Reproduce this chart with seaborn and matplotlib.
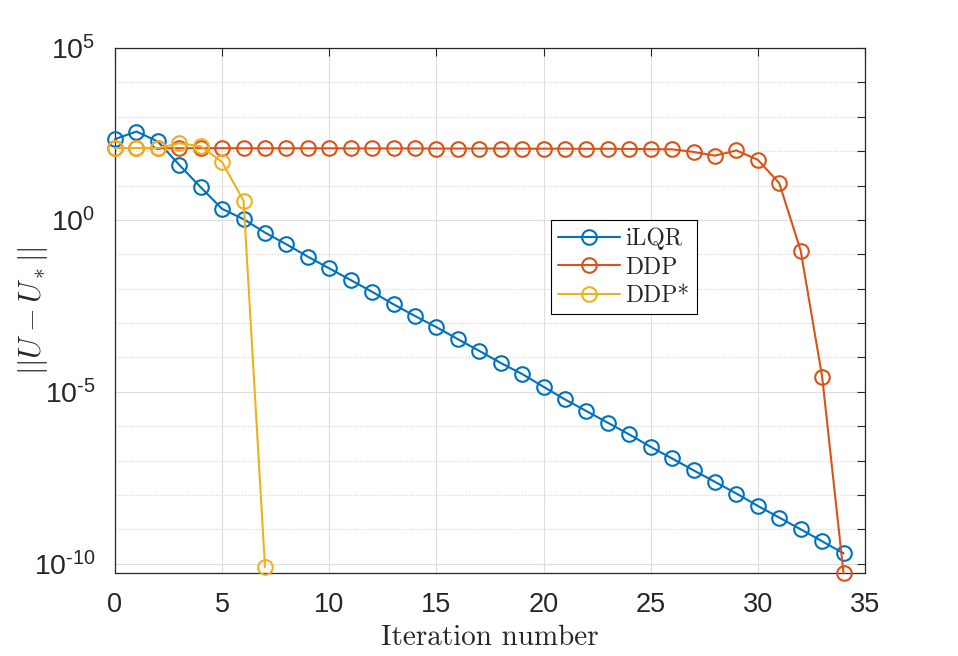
import numpy as np
import pandas as pd
import matplotlib
matplotlib.use("Agg")
import matplotlib.pyplot as plt
import seaborn as sns
from matplotlib.ticker import FixedLocator, FixedFormatter, NullFormatter

# ---- data ----
iters_ilqr = list(range(0, 35))
ilqr_vals = [224, 372, 191, 39.8, 8.9, 2.09, 1.05, 0.427, 0.195, 0.0851,
             0.0389, 0.0178, 8.1e-3, 3.5e-3, 1.6e-3, 7.6e-4, 3.4e-4, 1.55e-4,
             6.9e-5, 3.3e-5, 1.4e-5, 6.0e-6, 2.75e-6, 1.26e-6, 5.75e-7,
             2.5e-7, 1.15e-7, 5.2e-8, 2.4e-8, 1.1e-8, 4.8e-9, 2.2e-9,
             1.0e-9, 4.5e-10, 2.0e-10]

iters_ddp = list(range(0, 35))
ddp_vals = [123, 123, 122, 122, 122, 122, 121, 121, 121, 121,
            121, 120, 120, 120, 120, 119, 119, 119, 119, 118,
            118, 118, 117, 117, 116, 114, 113, 95, 74, 105,
            56, 11.7, 0.126, 2.75e-5, 5.2e-11]

iters_ddps = list(range(0, 8))
ddps_vals = [123, 123, 123, 170, 138, 48, 3.6, 8.0e-11]

labels = ["iLQR", "DDP", "DDP*"]
colors = ["#0072BD", "#D95319", "#EDB120"]

x_ticks = [0, 5, 10, 15, 20, 25, 30, 35]
y_major = [1e-10, 1e-5, 1e0, 1e5]
y_major_labels = ["$10^{\u201010}$", "$10^{\u20105}$", r"$10^{0}$", r"$10^{5}$"]

# ---- style ----
sns.set_theme(style="white")
plt.rcParams["font.family"] = ["Liberation Sans", "DejaVu Sans"]
plt.rcParams["mathtext.fontset"] = "custom"
plt.rcParams["mathtext.rm"] = "Liberation Sans"
plt.rcParams["mathtext.it"] = "Liberation Sans:italic"
plt.rcParams["mathtext.bf"] = "Liberation Sans:bold"

fig = plt.figure(figsize=(9.58, 6.56), dpi=100)
ax = fig.add_axes([115 / 958, 1 - 573 / 656, 750 / 958, 525 / 656])

series = [(iters_ilqr, ilqr_vals), (iters_ddp, ddp_vals), (iters_ddps, ddps_vals)]
for (xs, ys), lab, c in zip(series, labels, colors):
    df = pd.DataFrame({"iter": xs, "err": ys})
    sns.lineplot(data=df, x="iter", y="err", ax=ax, color=c, label=lab,
                 marker="o", markersize=10.5, markerfacecolor="none",
                 markeredgecolor=c, markeredgewidth=1.5, linewidth=1.5,
                 estimator=None, clip_on=False, zorder=3)

ax.set_yscale("log")
ax.set_xlim(0, 35)
ax.set_ylim(10 ** -10.27, 1e5)

ax.xaxis.set_major_locator(FixedLocator(x_ticks))
ax.set_xticklabels([str(t) for t in x_ticks])
ax.yaxis.set_major_locator(FixedLocator(y_major))
ax.yaxis.set_major_formatter(FixedFormatter(y_major_labels))
ax.yaxis.set_minor_locator(FixedLocator([10.0 ** k for k in range(-10, 6)]))
ax.yaxis.set_minor_formatter(NullFormatter())

ax.tick_params(axis="both", which="both", direction="in", top=True, right=True,
               colors="#262626", labelcolor="#262626", width=0.8)
ax.tick_params(axis="x", which="major", length=6, labelsize=19.5, pad=14)
ax.tick_params(axis="y", which="major", length=6, labelsize=20.5, pad=14)
ax.tick_params(axis="y", which="minor", length=6)

ax.grid(True, which="major", color="#dedede", linestyle="-", linewidth=0.8)
ax.grid(True, which="minor", axis="y", color="#d0d0d0", linestyle=":", linewidth=0.8)
ax.set_axisbelow(True)

for s in ax.spines.values():
    s.set_color("#262626")
    s.set_linewidth(0.9)

ax.set_xlabel("Iteration number", family="cmr10", fontsize=21, color="#262626")
ax.xaxis.set_label_coords(0.5, -(645 - 573) / 525)
ax.xaxis.label.set_verticalalignment("baseline")
ax.set_ylabel(r"$||U-U_*||$", math_fontfamily="cm", fontsize=22, color="#262626")
ax.yaxis.set_label_coords(-(115 - 50) / 750, 0.5)

leg = ax.legend(loc="upper left", bbox_to_anchor=(0.581, 0.672), borderaxespad=0,
                prop={"family": "cmr10", "size": 17}, frameon=True, fancybox=False,
                edgecolor="black", framealpha=1, handlelength=2.6,
                handletextpad=0.25, labelspacing=0.26, borderpad=0.32)
leg.get_frame().set_linewidth(0.8)

fig.savefig("out.png", dpi=100, facecolor="white")
